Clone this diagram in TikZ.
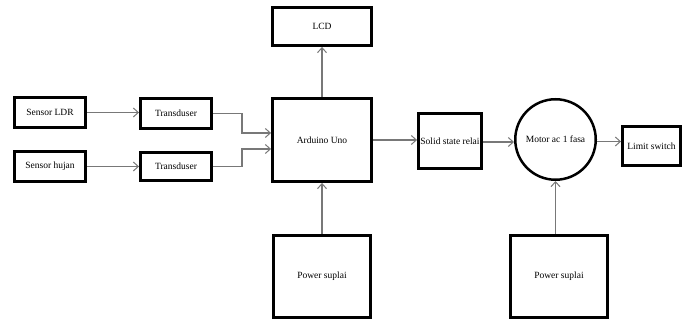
\documentclass[tikz,border=0pt]{standalone}
\usepackage{fontspec}
\setmainfont{Liberation Serif}
\usetikzlibrary{arrows.meta,calc}
\begin{document}
\begin{tikzpicture}[x=1pt,y=1pt,
  blk/.style={draw=black,line width=2.9pt,fill=white,inner sep=0pt,font=\fontsize{9.5}{11}\selectfont},
  circ/.style={draw=black,line width=2.5pt,circle,inner sep=0pt,font=\fontsize{9.5}{11}\selectfont},
  conn/.style={draw={rgb,255:red,120;green,120;blue,120},line width=1.2pt,-{Straight Barb[length=5pt,width=9pt,line width=1pt]}}
]
\useasboundingbox (0,0) rectangle (692,320);
% boxes (centres from pixel positions, y flipped)
\node[blk,minimum width=71pt,minimum height=30pt] (ldr) at (50,207.5) {Sensor LDR};
\node[blk,minimum width=71pt,minimum height=30pt] (huj) at (50,153.5) {Sensor hujan};
\node[blk,minimum width=71pt,minimum height=30pt] (t1) at (176,206.5) {Transduser};
\node[blk,minimum width=71pt,minimum height=28pt] (t2) at (176,153.5) {Transduser};
\node[blk,minimum width=99pt,minimum height=83pt] (ard) at (322,180) {Arduino Uno};
\node[blk,minimum width=99pt,minimum height=38pt] (lcd) at (322,293.5) {LCD};
\node[blk,minimum width=63pt,minimum height=55pt] (ssr) at (450,179) {Solid state relai};
\node[circ,minimum size=80.5pt] (mot) at (555.5,180.5) {Motor ac 1 fasa};
\node[blk,minimum width=58pt,minimum height=39pt] (lim) at (651.5,174) {Limit switch};
\node[blk,minimum width=97pt,minimum height=82pt] (ps1) at (322,43.5) {\raisebox{-4pt}{Power suplai}};
\node[blk,minimum width=97pt,minimum height=82pt] (ps2) at (559,43.5) {\raisebox{-1pt}{Power suplai}};
% connectors
\draw[conn] (ldr.east) -- (ldr.east -| t1.west);
\draw[conn] (huj.east) -- (huj.east -| t2.west);
\draw[conn] (t1.east) -- ++(29,0) |- ([yshift=7pt]ard.west);
\draw[conn] (t2.east) -- ++(29,0) |- ([yshift=-9pt]ard.west);
\draw[conn] (ard.north) -- (lcd.south);
\draw[conn] (ps1.north) -- (ard.south);
\draw[conn] (ard.east) -- (ard.east -| ssr.west);
\draw[conn] ([yshift=-1pt]ssr.east) -- ([yshift=-1pt]ssr.east -| mot.west);
\draw[conn] ([yshift=-2pt]mot.east) -- ([yshift=-2pt]mot.east -| lim.west);
\draw[conn] (mot.south |- ps2.north) -- (mot.south);
\end{tikzpicture}
\end{document}
